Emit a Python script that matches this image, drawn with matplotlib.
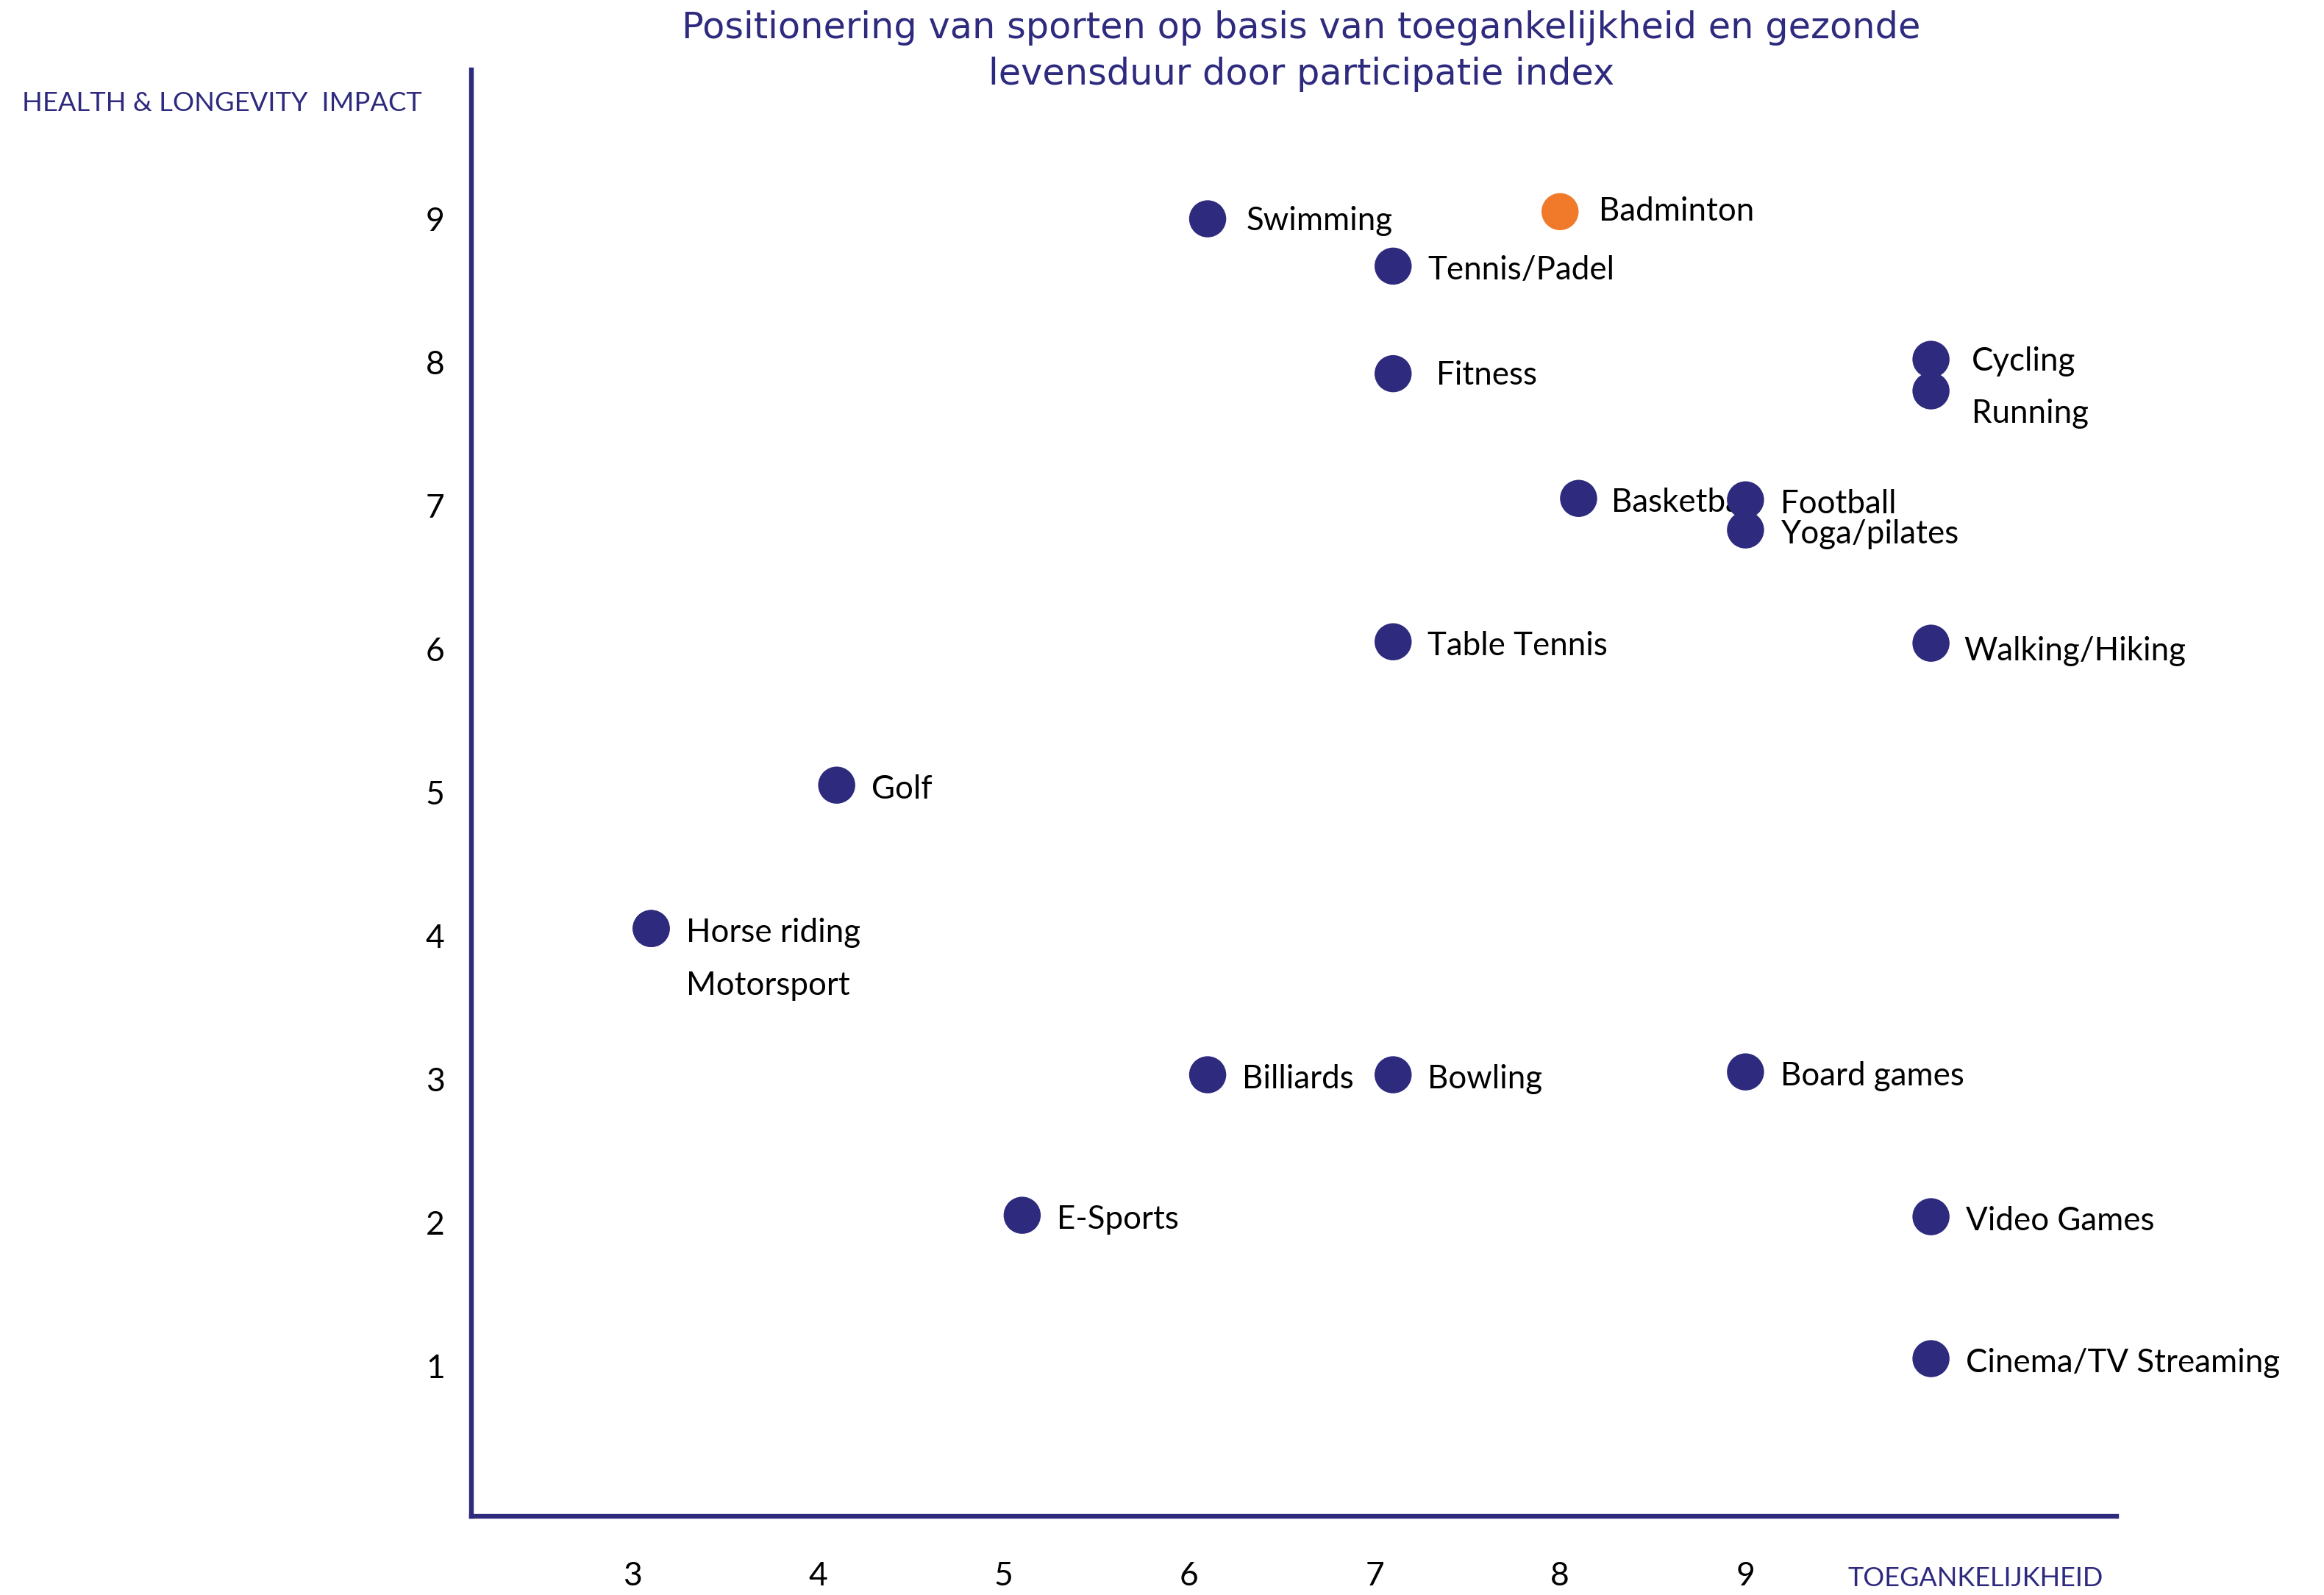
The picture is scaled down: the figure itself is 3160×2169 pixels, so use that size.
import matplotlib.pyplot as plt

# sports positioned by accessibility (x) and health & longevity impact (y)
sports = ["Swimming", "Badminton", "Tennis/Padel", "Fitness", "Cycling", "Running",
          "Basketball", "Football", "Yoga/pilates", "Table Tennis", "Walking/Hiking",
          "Golf", "Horse riding", "Motorsport", "Billiards", "Bowling", "Board games",
          "E-Sports", "Video Games", "Cinema/TV Streaming"]
access = [6.1, 8.0, 7.1, 7.1, 10.0, 10.0,
          8.1, 9.0, 9.0, 7.1, 10.0,
          4.1, 3.1, 3.1, 6.1, 7.1, 9.0,
          5.1, 10.0, 10.0]
health = [9.0, 9.05, 8.67, 7.92, 8.02, 7.8,
          7.05, 7.04, 6.83, 6.05, 6.04,
          5.05, 4.05, 4.05, 3.03, 3.03, 3.05,
          2.05, 2.04, 1.05]
highlight = "Badminton"

x_ticks = [3, 4, 5, 6, 7, 8, 9]
y_ticks = [1, 2, 3, 4, 5, 6, 7, 8, 9]

navy = "#2E2A7E"
orange = "#F07A2A"
font = ["Lato", "DejaVu Sans"]

# label offsets in points (dx, dy); default sits right of the dot
offsets = {"Swimming": (19, -1), "Badminton": (19, 0), "Fitness": (21, -1),
           "Cycling": (20, -1), "Running": (20, -11), "Basketball": (16, -2),
           "Motorsport": (17, -28), "Walking/Hiking": (16, -4)}

fig = plt.figure(figsize=(15.8, 10.845), dpi=200)
ax = fig.add_axes([0.2028, 0.0493, 0.7079, 0.907])

colors = [orange if s == highlight else navy for s in sports]
ax.scatter(access, health, s=330, c=colors, linewidths=0, zorder=3)

for s, x, y in zip(sports, access, health):
    dx, dy = offsets.get(s, (17, -2))
    ax.annotate(s, (x, y), xytext=(dx, dy), textcoords="offset points",
                ha="left", va="center", fontsize=15.8, family=font, color="black",
                zorder=2)

ax.set_xlim(2.13, 11.0)
ax.set_ylim(-0.05, 10.04)
ax.set_xticks(x_ticks)
ax.set_yticks(y_ticks)
ax.tick_params(axis="both", length=0, labelsize=16, labelcolor="black")
ax.tick_params(axis="x", pad=22)
ax.tick_params(axis="y", pad=13)
for lab in ax.get_xticklabels() + ax.get_yticklabels():
    lab.set_family(font)

for side in ["top", "right"]:
    ax.spines[side].set_visible(False)
for side in ["left", "bottom"]:
    ax.spines[side].set_color(navy)
    ax.spines[side].set_linewidth(2.3)

fig.text(0.56, 0.968, "Positionering van sporten op basis van toegankelijkheid en gezonde\nlevensduur door participatie index",
         ha="center", va="center", fontsize=17.8, color=navy, family="DejaVu Sans", linespacing=1.4)
fig.text(0.0096, 0.935, "HEALTH & LONGEVITY  IMPACT", ha="left", va="center",
         fontsize=13.1, color=navy, family=font)
fig.text(0.905, 0.0102, "TOEGANKELIJKHEID", ha="right", va="center",
         fontsize=13, color=navy, family=font)

fig.savefig("out.png", dpi=200)
